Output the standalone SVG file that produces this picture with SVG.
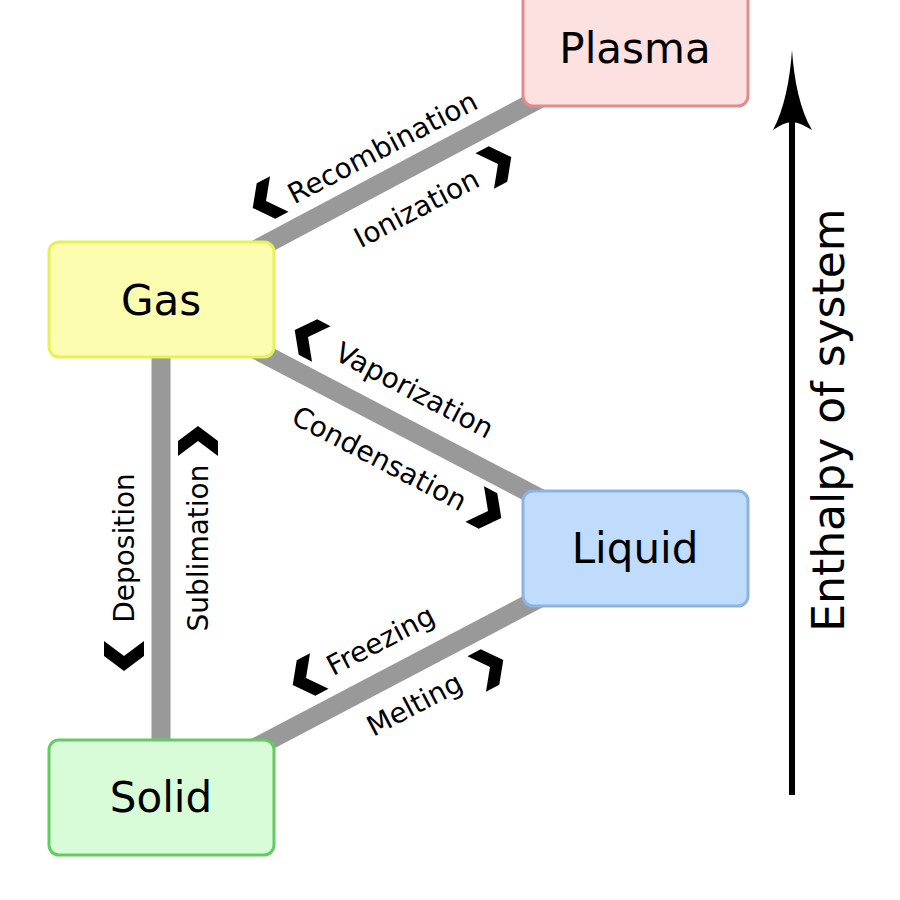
<svg xmlns="http://www.w3.org/2000/svg" width="900" height="900" viewBox="0 0 900 900">
<style>
.node text{font-family:"DejaVu Sans",sans-serif;font-size:42px;text-anchor:middle;fill:#000}
.lbl{font-family:"DejaVu Sans",sans-serif;font-size:28px;text-anchor:middle;fill:#000}
.conn{stroke:#999999;stroke-width:19;fill:none}
.box{stroke-width:3}
</style>
<defs>
<polygon id="chev" points="15,0 0,-20 -15,-20 0,0 -15,20 0,20" fill="#000"/>
</defs>
<rect width="900" height="900" fill="#fff"/>
<g id="connectors">
<line class="conn" x1="161" y1="300" x2="635" y2="48"/>
<line class="conn" x1="161" y1="300" x2="635" y2="548"/>
<line class="conn" x1="161" y1="300" x2="161" y2="797"/>
<line class="conn" x1="161" y1="797" x2="635" y2="548"/>
</g>
<g id="plasma" class="node"><rect class="box" x="523" y="-10" width="225" height="116" rx="10" fill="#fde0e0" stroke="#e08c8c"/><text x="635" y="63">Plasma</text></g>
<g id="gas" class="node"><rect class="box" x="49" y="242" width="225" height="115" rx="10" fill="#fdfdb0" stroke="#e4f258"/><text x="161" y="315">Gas</text></g>
<g id="liquid" class="node"><rect class="box" x="523" y="491" width="225" height="115" rx="10" fill="#c0dcfc" stroke="#8cb2e2"/><text x="635" y="563">Liquid</text></g>
<g id="solid" class="node"><rect class="box" x="49" y="740" width="225" height="115" rx="10" fill="#d8fbd8" stroke="#62cc62"/><text x="161" y="812">Solid</text></g>
<g id="labels">
<text class="lbl" transform="translate(387,156) rotate(-27.6)">Recombination</text>
<text class="lbl" transform="translate(421,217) rotate(-27.6)">Ionization</text>
<text class="lbl" transform="translate(410,399) rotate(27.6)">Vaporization</text>
<text class="lbl" transform="translate(375,467) rotate(27.6)">Condensation</text>
<text class="lbl" transform="translate(208,548) rotate(-90)">Sublimation</text>
<text class="lbl" transform="translate(134,548) rotate(-90)">Deposition</text>
<text class="lbl" transform="translate(385,649) rotate(-27.6)">Freezing</text>
<text class="lbl" transform="translate(419,713) rotate(-27.6)">Melting</text>
</g>
<g id="chevrons">
<use href="#chev" transform="translate(266,201) rotate(152.4)"/>
<use href="#chev" transform="translate(498,164) rotate(-27.6)"/>
<use href="#chev" transform="translate(308,337) rotate(-152.4)"/>
<use href="#chev" transform="translate(488,511) rotate(27.6)"/>
<use href="#chev" transform="translate(198,441) rotate(-90)"/>
<use href="#chev" transform="translate(124,656) rotate(90)"/>
<use href="#chev" transform="translate(306,678) rotate(152.4)"/>
<use href="#chev" transform="translate(490,667) rotate(-27.6)"/>
</g>
<g id="enthalpy">
<line x1="792" y1="795" x2="792" y2="110" stroke="#000" stroke-width="6"/>
<path d="M792,50 C794,80 800,110 812,130 C802,124 796,122 792,122 C788,122 782,124 773,130 C784,110 790,80 792,50 Z" fill="#000"/>
<text class="lbl" style="font-size:44px" transform="translate(844,420) rotate(-90)">Enthalpy of system</text>
</g>
</svg>
